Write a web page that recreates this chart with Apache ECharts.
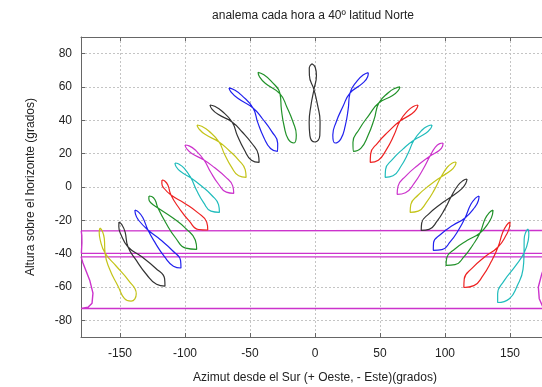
<!DOCTYPE html>
<html>
<head>
<meta charset="utf-8">
<script src="https://cdn.jsdelivr.net/npm/echarts@6/dist/echarts.min.js"></script>
<style>
html, body { margin: 0; padding: 0; background: #fff; }
#chart { width: 542px; height: 387px; }
</style>
</head>
<body>
<div id="chart"></div>
<script>
var titleText = 'analema cada hora a 40º latitud Norte';
var xName = 'Azimut desde el Sur (+ Oeste, - Este)(grados)';
var yName = 'Altura sobre el horizonte (grados)';

var xTicks = [-150, -100, -50, 0, 50, 100, 150];
var yTicks = [-80, -60, -40, -20, 0, 20, 40, 60, 80];

// [azimut, altura], un analema por hora
var h00 = [[179.9,-26.1],[-179.8,-26.3],[-179.4,-29.0],[-179.3,-33.5],[-179.7,-39.8],[179.8,-39.8],[178.0,-45.0],[174.5,-52.0],[171.8,-60.0],[172.5,-67.0],[175.5,-72.3],[179.9,-72.9],[-179.9,-72.9],[-174.6,-72.1],[-171.5,-69.7],[-170.8,-63.7],[-173.3,-55.9],[-178.5,-45.6],[-179.9,-41.9],[179.9,-41.9],[178.5,-36.0],[178.2,-30.0],[179.9,-26.1]];
var h01 = [[-165.4,-24.6],[-166.0,-27.2],[-165.2,-31.9],[-161.5,-39.6],[-153.0,-47.4],[-143.5,-56.0],[-137.5,-64.0],[-141.5,-68.5],[-146.5,-67.0],[-151.5,-59.5],[-158.1,-49.1],[-161.5,-39.6],[-162.1,-30.8],[-163.6,-26.5],[-165.4,-24.6]];
var h02 = [[-150.8,-21.0],[-150.9,-23.9],[-149.2,-28.6],[-143.8,-36.0],[-133.2,-41.9],[-122.8,-48.6],[-115.7,-55.0],[-115.4,-59.5],[-121.9,-58.4],[-129.6,-52.5],[-137.3,-44.2],[-143.8,-36.0],[-146.1,-26.9],[-148.6,-22.6],[-150.8,-21.0]];
var h03 = [[-138.5,-13.8],[-138.1,-16.3],[-135.5,-20.1],[-128.5,-25.8],[-119.1,-31.5],[-109.7,-38.1],[-103.4,-44.2],[-103.1,-48.6],[-108.9,-47.5],[-115.8,-41.8],[-122.7,-33.8],[-128.5,-25.8],[-132.5,-18.3],[-135.9,-14.9],[-138.5,-13.8]];
var h04 = [[-127.7,-5.4],[-127.8,-7.2],[-126.1,-9.6],[-120.8,-12.6],[-109.8,-18.3],[-99.1,-25.1],[-92.1,-31.8],[-91.0,-37.4],[-99.4,-36.7],[-107.2,-30.6],[-114.7,-21.6],[-120.8,-12.6],[-123.1,-7.7],[-125.6,-5.7],[-127.7,-5.4]];
var h05 = [[-117.7,4.2],[-117.8,2.1],[-116.0,-0.9],[-110.8,-4.8],[-100.4,-9.7],[-90.2,-15.4],[-83.3,-21.1],[-82.5,-25.8],[-89.5,-25.5],[-97.0,-20.2],[-104.6,-12.6],[-110.8,-4.8],[-113.2,1.2],[-115.6,3.6],[-117.7,4.2]];
var h06 = [[-107.7,14.4],[-106.9,12.3],[-103.6,9.4],[-95.4,5.4],[-87.3,0.6],[-79.3,-5.1],[-74.2,-10.6],[-73.5,-15.2],[-80.0,-14.5],[-85.7,-9.4],[-91.1,-2.0],[-95.4,5.4],[-100.7,11.3],[-104.8,13.8],[-107.7,14.4]];
var h07 = [[-100.0,25.2],[-98.8,23.1],[-94.8,20.1],[-85.4,16.2],[-77.1,11.5],[-68.9,6.1],[-63.3,0.7],[-62.5,-3.8],[-68.2,-3.1],[-74.3,1.8],[-80.3,9.0],[-85.4,16.2],[-92.1,22.2],[-96.8,24.7],[-100.0,25.2]];
var h08 = [[-90.8,37.2],[-89.3,34.9],[-84.6,31.6],[-73.8,27.0],[-66.1,21.9],[-58.6,16.0],[-53.7,10.4],[-53.0,5.8],[-58.7,6.7],[-64.2,11.9],[-69.5,19.5],[-73.8,27.0],[-81.7,33.6],[-87.2,36.4],[-90.8,37.2]];
var h09 = [[-80.8,49.2],[-79.4,46.9],[-74.6,43.6],[-63.8,39.0],[-56.0,33.0],[-48.5,26.1],[-43.6,19.6],[-43.0,14.8],[-48.9,16.1],[-54.3,22.2],[-59.6,30.6],[-63.8,39.0],[-71.7,45.6],[-77.2,48.4],[-80.8,49.2]];
var h10 = [[-66.2,59.5],[-64.6,57.0],[-59.4,53.2],[-47.7,47.4],[-40.3,40.8],[-33.2,33.2],[-28.7,26.3],[-28.8,21.4],[-34.2,23.1],[-39.3,29.6],[-44.0,38.6],[-47.7,47.4],[-56.4,55.0],[-62.3,58.4],[-66.2,59.5]];
var h11 = [[-43.8,68.8],[-42.8,66.3],[-38.3,62.2],[-26.9,55.9],[-21.6,47.9],[-16.9,39.0],[-14.4,31.2],[-16.2,26.4],[-20.6,28.7],[-23.7,36.3],[-25.8,46.2],[-26.9,55.9],[-34.1,63.8],[-39.7,67.5],[-43.8,68.8]];
var h12 = [[-2.3,73.9],[-4.4,71.5],[-4.3,66.9],[-0.8,58.5],[2.0,49.1],[3.9,39.1],[3.7,30.9],[0.0,27.0],[-3.9,30.7],[-4.5,38.9],[-3.1,49.0],[-0.8,58.5],[1.1,67.1],[0.2,71.7],[-2.3,73.9]];
var h13 = [[41.0,68.6],[37.3,67.3],[32.6,63.8],[26.9,56.3],[25.5,46.6],[23.2,36.5],[19.9,28.9],[15.4,26.4],[13.7,31.2],[16.3,39.0],[21.4,48.1],[26.9,56.3],[36.7,62.3],[40.5,66.2],[41.0,68.6]];
var h14 = [[65.4,60.1],[61.8,59.3],[56.6,56.7],[49.2,50.5],[45.5,40.7],[40.7,30.7],[35.4,23.3],[29.5,21.4],[29.2,26.8],[33.9,34.5],[41.4,43.0],[49.2,50.5],[59.7,54.9],[64.1,58.0],[65.4,60.1]];
var h15 = [[79.2,49.2],[76.0,48.5],[71.5,45.8],[65.4,39.6],[60.7,31.0],[54.8,22.3],[48.7,16.1],[42.5,14.8],[42.8,19.9],[48.3,26.5],[56.8,33.5],[65.4,39.6],[74.5,43.9],[78.2,47.0],[79.2,49.2]];
var h16 = [[90.0,37.2],[86.9,36.6],[82.4,34.2],[76.2,28.2],[71.6,20.2],[66.0,12.3],[60.0,6.7],[54.0,5.8],[54.3,10.6],[59.6,16.6],[67.8,22.9],[76.2,28.2],[85.2,32.2],[89.0,35.1],[90.0,37.2]];
var h17 = [[98.5,26.4],[95.9,26.0],[92.6,23.9],[88.5,18.6],[83.0,10.5],[76.4,2.3],[69.6,-3.4],[63.2,-4.4],[63.9,0.5],[70.0,6.7],[79.2,13.1],[88.5,18.6],[95.5,21.9],[98.1,24.5],[98.5,26.4]];
var h18 = [[108.5,15.0],[105.7,14.4],[101.9,12.0],[96.9,6.0],[91.9,-1.6],[85.7,-9.2],[79.4,-14.5],[73.2,-15.2],[73.7,-10.5],[79.4,-4.8],[88.1,1.0],[96.9,6.0],[104.7,10.0],[107.8,12.9],[108.5,15.0]];
var h19 = [[116.9,4.8],[114.0,3.9],[109.9,0.9],[104.6,-6.0],[99.8,-13.3],[93.9,-20.5],[87.8,-25.4],[81.7,-26.0],[82.1,-21.5],[87.6,-16.1],[96.0,-10.6],[104.6,-6.0],[112.8,-1.1],[116.1,2.4],[116.9,4.8]];
var h20 = [[126.2,-5.4],[123.5,-6.7],[119.9,-10.4],[115.4,-18.6],[110.4,-25.8],[104.1,-32.8],[97.6,-37.6],[91.0,-38.0],[91.2,-33.4],[97.0,-28.2],[106.1,-23.0],[115.4,-18.6],[122.8,-12.3],[125.7,-8.1],[126.2,-5.4]];
var h21 = [[136.9,-13.8],[134.3,-15.2],[130.9,-19.1],[126.9,-27.6],[121.4,-34.8],[114.7,-41.8],[107.7,-46.6],[100.8,-47.0],[101.4,-42.4],[107.6,-37.2],[117.2,-32.0],[126.9,-27.6],[133.9,-21.0],[136.5,-16.6],[136.9,-13.8]];
var h22 = [[150.0,-21.0],[147.6,-22.7],[144.5,-27.0],[140.8,-36.0],[135.7,-44.6],[129.2,-53.2],[122.2,-59.2],[114.5,-60.3],[114.8,-55.2],[120.9,-48.7],[130.7,-41.9],[140.8,-36.0],[147.3,-28.5],[149.7,-23.8],[150.0,-21.0]];
var h23 = [[163.8,-25.2],[162.2,-27.0],[160.9,-31.2],[160.8,-39.6],[160.0,-49.4],[155.4,-59.5],[149.5,-67.0],[140.5,-69.3],[140.5,-64.1],[145.4,-56.3],[154.1,-47.5],[160.8,-39.6],[164.0,-32.2],[164.5,-27.8],[163.8,-25.2]];

var hours = [h00,h01,h02,h03,h04,h05,h06,h07,h08,h09,h10,h11,h12,h13,h14,h15,h16,h17,h18,h19,h20,h21,h22,h23];

// colores tipo octave: m y k b g r c ...
var M = '#cc33cc', Y = '#c4c41a', K = '#333333', B = '#2222ee', G = '#22922a', R = '#ee2222', C = '#20bcbc';
var hourColors = [M,Y,K,B,G,R,C,M,Y,K,B,G,K,B,G,R,C,M,Y,K,B,G,R,C];

var txt = '#222';
var font = 'Liberation Sans';

var series = [];
for (var i = 0; i < hours.length; i++) {
  series.push({
    type: 'line',
    data: hours[i],
    symbol: 'none',
    smooth: i == 0 ? false : 0.5,
    silent: true,
    lineStyle: { color: hourColors[i], width: i == 0 ? 1.4 : 1.2 },
    itemStyle: { color: hourColors[i] }
  });
}

var chart = echarts.init(document.getElementById('chart'));
var option = {
  animation: false,
  backgroundColor: '#fff',
  graphic: [{
    type: 'text',
    x: 313, y: 16,
    style: { text: titleText, align: 'center', verticalAlign: 'middle', fontSize: 12, fontFamily: font, fill: txt }
  }],
  grid: { left: 81, right: -7, top: 37, bottom: 50, containLabel: false, outerBoundsMode: 'none' },
  xAxis: [{
    type: 'value', min: -180, max: 180, position: 'bottom',
    name: xName, nameLocation: 'middle', nameGap: 35,
    nameTextStyle: { fontSize: 12, fontFamily: font, color: txt },
    axisLine: { onZero: false, lineStyle: { color: '#666' } },
    axisTick: { inside: true, length: 4, customValues: xTicks, lineStyle: { color: '#666' } },
    axisLabel: { customValues: xTicks, margin: 11, fontSize: 12, fontFamily: font, color: txt },
    splitLine: { show: true, lineStyle: { color: '#c4c4c4', type: [2, 2] } }
  }, {
    type: 'value', min: -180, max: 180, position: 'top',
    axisLine: { onZero: false, lineStyle: { color: '#666' } },
    axisTick: { inside: true, length: 4, customValues: xTicks, lineStyle: { color: '#666' } },
    axisLabel: { show: false, customValues: xTicks },
    splitLine: { show: false }
  }],
  yAxis: [{
    type: 'value', min: -90, max: 90, position: 'left',
    name: yName, nameLocation: 'middle', nameGap: 44,
    nameTextStyle: { fontSize: 12, fontFamily: font, color: txt },
    axisLine: { onZero: false, lineStyle: { color: '#666' } },
    axisTick: { inside: true, length: 4, customValues: yTicks, lineStyle: { color: '#666' } },
    axisLabel: { customValues: yTicks, margin: 9, fontSize: 12, fontFamily: font, color: txt },
    splitLine: { show: true, lineStyle: { color: '#c4c4c4', type: [2, 2] } }
  }],
  series: series
};
chart.setOption(option);
</script>
</body>
</html>
